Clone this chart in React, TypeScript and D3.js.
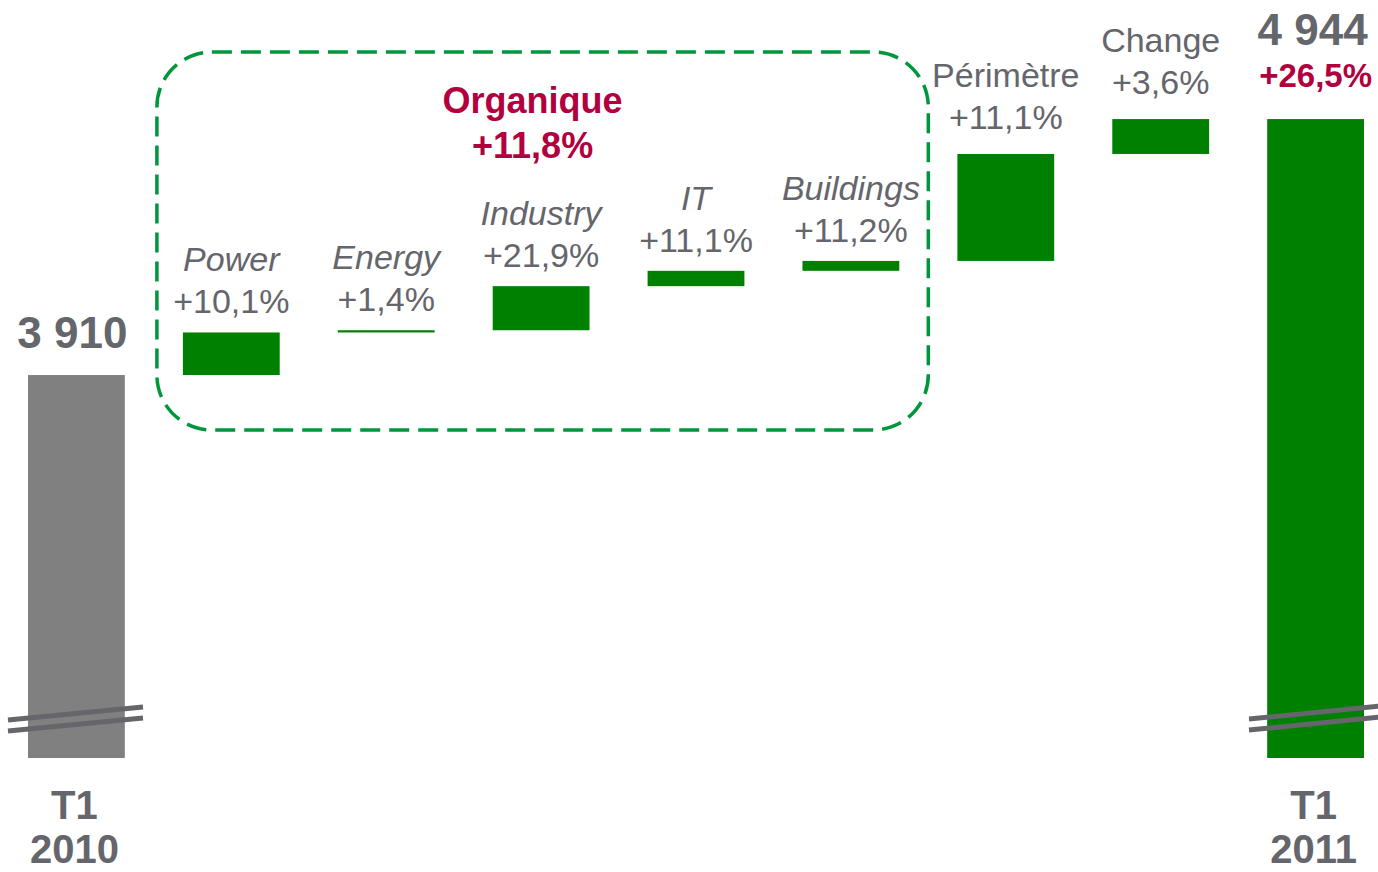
import React from "react";
import * as d3 from "d3";

// waterfall T1 2010 -> T1 2011
const startValue = 3910;
const endValue = 4944;
const startLabel = ["T1", "2010"];
const endLabel = ["T1", "2011"];
const totalPct = "+26,5%";

const stepNames = ["Power", "Energy", "Industry", "IT", "Buildings", "Périmètre", "Change"];
const stepValues = [172, 9, 178, 62, 40, 432, 141];
const stepPcts = ["+10,1%", "+1,4%", "+21,9%", "+11,1%", "+11,2%", "+11,1%", "+3,6%"];
const organicSteps = ["Power", "Energy", "Industry", "IT", "Buildings"];
const organicLabel = "Organique";
const organicPct = "+11,8%";

// axis is broken, bars start at this value
const axisFloor = 2363;
const axisTop = 5425;

const W = 1378;
const H = 872;
const GRAY = "#65656c";
const RED = "#b2003f";
const GREEN = "#008000";
const DASH = "#00963c";
const FONT = "'Liberation Sans', Arial, sans-serif";

const fmt = (v: number) => d3.format(",")(v).replace(",", " ");

export default function App() {
  const cats = ["start", ...stepNames, "end"];
  const x = d3.scaleBand().domain(cats).range([28, 1364]).paddingInner(0.375).paddingOuter(0);
  const y = d3.scaleLinear().domain([axisFloor, axisTop]).range([758, 0]);
  const bw = x.bandwidth();

  let acc = startValue;
  const steps = stepNames.map((name, i) => {
    const from = acc;
    acc += stepValues[i];
    return { name, pct: stepPcts[i], from, to: acc, organic: organicSteps.includes(name) };
  });

  const boxL = x("Power")! - 26;
  const boxR = x("Buildings")! + bw + 29;
  const boxT = 52;
  const boxB = 430;
  const r = 55;

  const breakMarks = (x0: number, x1: number, yMid: number) =>
    [0, 11].map((dy) => (
      <line
        key={dy}
        x1={x0}
        y1={yMid + dy + 6}
        x2={x1}
        y2={yMid + dy - 7}
        stroke={GRAY}
        strokeWidth={5}
      />
    ));

  const sx = x("start")!;
  const ex = x("end")!;

  return (
    <svg
      width={W}
      height={H}
      style={{ position: "absolute", left: 0, top: 0, fontFamily: FONT }}
    >
      <rect x={boxL} y={boxT} width={boxR - boxL} height={boxB - boxT} rx={r} ry={r}
        fill="none" stroke={DASH} strokeWidth={3.5} strokeDasharray="20 9" />

      {/* start bar */}
      <rect x={sx} y={y(startValue)} width={bw} height={y(axisFloor) - y(startValue)} fill="#808080" />
      {breakMarks(8, 143, 714)}
      <text x={sx + bw / 2 - 4} y={y(startValue) - 27} textAnchor="middle" fontSize={44}
        fontWeight="bold" fill={GRAY}>{fmt(startValue)}</text>
      {startLabel.map((t, i) => (
        <text key={t} x={sx + bw / 2 - 2} y={819 + i * 44} textAnchor="middle" fontSize={40}
          fontWeight="bold" fill={GRAY}>{t}</text>
      ))}

      {/* steps */}
      {steps.map((s) => {
        const cx = x(s.name)! + bw / 2;
        const top = y(s.to);
        const off = s.organic ? 19 : 25;
        return (
          <g key={s.name}>
            <rect x={x(s.name)} y={top} width={bw} height={Math.max(y(s.from) - top, 1)} fill={GREEN} />
            <text x={cx} y={top - off - 42} textAnchor="middle" fontSize={34}
              fontStyle={s.organic ? "italic" : "normal"} fill={GRAY}>{s.name}</text>
            <text x={cx} y={top - off} textAnchor="middle" fontSize={34} fill={GRAY}>{s.pct}</text>
          </g>
        );
      })}

      <text x={(boxL + boxR) / 2 - 10} y={113} textAnchor="middle" fontSize={36}
        fontWeight="bold" fill={RED}>{organicLabel}</text>
      <text x={(boxL + boxR) / 2 - 10} y={158} textAnchor="middle" fontSize={36}
        fontWeight="bold" fill={RED}>{organicPct}</text>

      {/* end bar */}
      <rect x={ex} y={y(endValue)} width={bw} height={y(axisFloor) - y(endValue)} fill={GREEN} />
      {breakMarks(1249, 1380, 713)}
      <text x={ex + bw / 2 - 3} y={y(endValue) - 74} textAnchor="middle" fontSize={44}
        fontWeight="bold" fill={GRAY}>{fmt(endValue)}</text>
      <text x={ex + bw / 2} y={y(endValue) - 32} textAnchor="middle" fontSize={33}
        fontWeight="bold" fill={RED}>{totalPct}</text>
      {endLabel.map((t, i) => (
        <text key={t} x={ex + bw / 2 - 2} y={819 + i * 44} textAnchor="middle" fontSize={40}
          fontWeight="bold" fill={GRAY}>{t}</text>
      ))}
    </svg>
  );
}
